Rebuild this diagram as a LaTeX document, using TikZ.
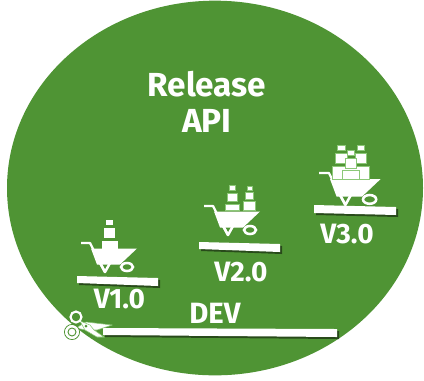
\documentclass[tikz,border=0pt]{standalone}
\usepackage{fontspec}
\setmainfont{Fira Sans}
\usetikzlibrary{shadows,shapes}
\definecolor{apigreen}{HTML}{4F9434}
\definecolor{edgegreen}{HTML}{8CC878}
\tikzset{
  lbl/.style={text=white,font=\fontsize{21}{24}\selectfont\bfseries,inner sep=0pt},
  bar/.style={fill=white,general shadow={fill=black!70!apigreen,shadow xshift=1.5pt,shadow yshift=-1.5pt,opacity=.7}},
  cartbox/.style={fill=white,draw=edgegreen,line width=.5pt},
  cart/.pic={
    \draw[white,line width=1.7pt,line join=round] (0,0) -- (9,0) -- (24,29);
    \fill[white] (10,5.5) -- (56,5.5) -- (39,21.5) -- (16,21.5) -- cycle;
    \draw[white,line width=1.9pt,line join=round] (19,20) -- (24,29) -- (29,20);
    \draw[white,line width=1.9pt] (46,24) ellipse (6 and 4);
  }
}
\begin{document}
\begin{tikzpicture}[x=.75pt,y=-.75pt]
\useasboundingbox (0,0) rectangle (424,380);
\node[ellipse,fill=apigreen,minimum width=312pt,minimum height=281pt,inner sep=0pt] at (215,188) (field) {};
\node[lbl,font=\fontsize{25}{27}\selectfont\bfseries,align=center] at (207,102) (title) {Release\\API};
% bars
\fill[bar] (77,276) -- (158,278) -- (158,286) -- (77,283) -- cycle;
\fill[bar] (199,242) -- (280,244) -- (280,252) -- (199,249) -- cycle;
\fill[bar] (314,205) -- (396,207) -- (396,215) -- (314,213) -- cycle;
\fill[bar] (103,328) -- (337,329) -- (337,337) -- (103,335) -- cycle;
% labels
\begin{scope}
\clip (80,285) rectangle (144,312);
\node[lbl] at (119.5,299) (v1) {V1.0};
\end{scope}
\node[lbl] at (241,272) (v2) {V2.0};
\node[lbl] at (347,234) (v3) {V3.0};
\node[lbl,font=\fontsize{22}{24}\selectfont\bfseries] at (215,313) (dev) {DEV};
% first cart
\pic at (81,243) {cart};
\fill[white] (102,241) rectangle (118,249);
\fill[white] (104,228) rectangle (115,238);
\fill[white] (106,220) rectangle (113,225);
% second cart
\pic at (204,206) {cart};
\draw[cartbox] (225,204) rectangle (239,210);
\draw[cartbox] (227,193) rectangle (237,201);
\draw[cartbox] (229,185) rectangle (235,190);
\draw[cartbox] (243,201) rectangle (255,210);
\draw[cartbox] (245,192) rectangle (253,199);
\draw[cartbox] (247,186) rectangle (252,190);
% third cart
\pic[scale=1.1] at (319,173) {cart};
\draw[cartbox] (332,166) rectangle (369,179);
\draw[cartbox] (335,153) rectangle (347,163);
\draw[cartbox] (355,153) rectangle (366,163);
\draw[cartbox] (337,145) rectangle (345,150);
\draw[cartbox] (357,145) rectangle (364,150);
\draw[cartbox] (347,150) rectangle (354,155);
\draw[cartbox] (345,158) rectangle (356,168);
\draw[cartbox] (342,170) rectangle (359,179);
% scissors
\fill[white,draw=edgegreen,line width=.4pt] (76,328) -- (86,322) -- (112,325) -- (97,330) -- (86,330) -- cycle;
\fill[white,draw=edgegreen,line width=.4pt] (80,321) -- (90,325) -- (94,330) -- (104,337) -- (97,337) -- (85,330) -- cycle;
\draw[white,line width=1.6pt] (76,317) circle (5.5);
\draw[apigreen,line width=.7pt] (72,332) circle (7.5);
\draw[white,line width=1pt,fill=none] (72,332) circle (6.2);
\draw[apigreen,line width=.7pt] (72,332) circle (4);
\fill[apigreen] (86,326) circle (1.5);
\end{tikzpicture}
\end{document}
